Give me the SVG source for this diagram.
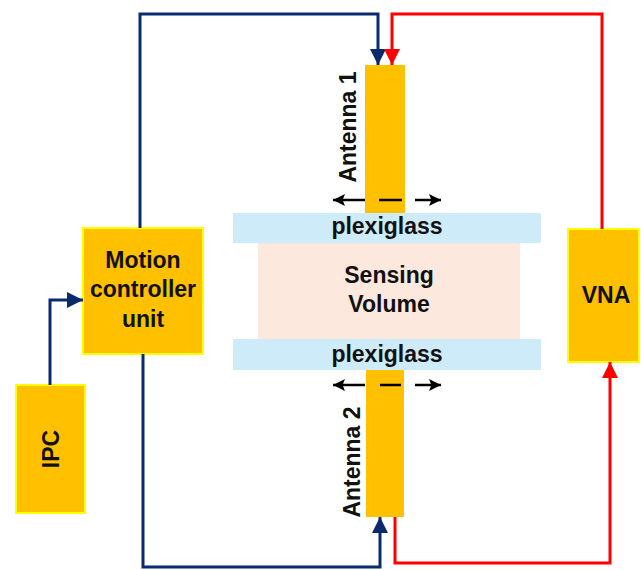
<svg xmlns="http://www.w3.org/2000/svg" width="641" height="570" viewBox="0 0 641 570">
<style>
.box{fill:#FFC000;stroke:#FFFF00;stroke-width:2}
.ant{fill:#FFC000}
.plex{fill:#CDEBF8}
.vol{fill:#FCE8DC}
.t{font-family:"Liberation Sans",Arial,sans-serif;font-weight:bold;font-size:23px;fill:#111;text-anchor:middle}
.blue{fill:none;stroke:#0A2A6E;stroke-width:3}
.red{fill:none;stroke:#FF0000;stroke-width:3}
.blk{fill:none;stroke:#000;stroke-width:2.5}
</style>
<defs>
<marker id="hb" markerWidth="16" markerHeight="16" viewBox="0 0 10 10" refX="10" refY="5" orient="auto" markerUnits="userSpaceOnUse">
<path d="M0,0 L10,5 L0,10 z" fill="#0A2A6E"/>
</marker>
<marker id="hr" markerWidth="16" markerHeight="16" viewBox="0 0 10 10" refX="10" refY="5" orient="auto" markerUnits="userSpaceOnUse">
<path d="M0,0 L10,5 L0,10 z" fill="#FF0000"/>
</marker>
<marker id="hk" markerWidth="12" markerHeight="13" viewBox="0 0 10 10" refX="10" refY="5" orient="auto" markerUnits="userSpaceOnUse">
<path d="M0,0 L10,5 L0,10 L2,5 z" fill="#000"/>
</marker>
</defs>

<g id="sensing-volume">
<rect class="vol" x="258" y="243" width="262" height="96"/>
<text class="t" x="389" y="283">Sensing</text>
<text class="t" x="389" y="312">Volume</text>
</g>
<g id="plexiglass-top">
<rect class="plex" x="233" y="213" width="308" height="30"/>
<text class="t" x="387" y="234">plexiglass</text>
</g>
<g id="plexiglass-bottom">
<rect class="plex" x="233" y="339" width="308" height="31"/>
<text class="t" x="387" y="362">plexiglass</text>
</g>
<g id="antenna1">
<rect class="ant" x="365" y="65" width="40" height="148"/>
<text class="t" transform="translate(356,127) rotate(-90)">Antenna 1</text>
</g>
<g id="antenna2">
<rect class="ant" x="366" y="370" width="38" height="147"/>
<text class="t" transform="translate(360,462) rotate(-90)">Antenna 2</text>
</g>
<g id="motion-controller">
<rect class="box" x="83" y="228" width="120" height="126"/>
<text class="t" x="143" y="268">Motion</text>
<text class="t" x="143" y="297">controller</text>
<text class="t" x="143" y="327">unit</text>
</g>
<g id="ipc">
<rect class="box" x="16" y="385" width="69" height="128"/>
<text class="t" transform="translate(59,449) rotate(-90)">IPC</text>
</g>
<g id="vna">
<rect class="box" x="568" y="229" width="71" height="133"/>
<text class="t" x="606" y="303">VNA</text>
</g>

<g id="connectors">
<path class="blue" d="M140,228 V14 H378 V65" marker-end="url(#hb)"/>
<path class="red" d="M602,229 V14 H392 V65" marker-end="url(#hr)"/>
<path class="blue" d="M143,354 V567 H380 V517" marker-end="url(#hb)"/>
<path class="red" d="M395,517 V563 H610 V362" marker-end="url(#hr)"/>
<path class="blue" d="M50,385 V300 H83" marker-end="url(#hb)"/>
<path class="blk" d="M365,200 H333" marker-end="url(#hk)"/>
<path class="blk" d="M379,200 H402"/>
<path class="blk" d="M415,200 H441" marker-end="url(#hk)"/>
<path class="blk" d="M365,385 H333" marker-end="url(#hk)"/>
<path class="blk" d="M380,385 H401"/>
<path class="blk" d="M415,385 H441" marker-end="url(#hk)"/>
</g>
</svg>
